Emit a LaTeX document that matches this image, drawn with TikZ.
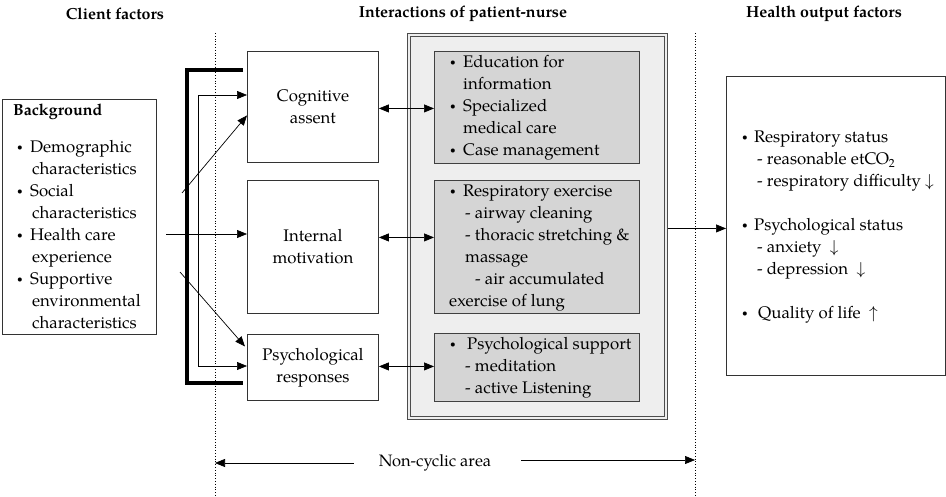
\documentclass[tikz,border=0pt]{standalone}
\usepackage{fontspec}
\setmainfont{TeX Gyre Pagella}
\usetikzlibrary{arrows.meta,calc}
\newcommand{\bulw}[1]{\makebox[#1][l]{\raisebox{0.25ex}{\fontsize{10}{10}\selectfont\textbullet}}}
\newcommand{\indw}[1]{\hspace*{#1}}
\begin{document}
\begin{tikzpicture}[x=1pt,y=-1pt,
  box/.style={draw=black!80, line width=0.9pt, fill=white, anchor=north west, inner sep=0pt},
  gbox/.style={draw=black!75, line width=0.9pt, fill=gray!33, anchor=north west, inner sep=0pt},
  panelbox/.style={draw=black!70, line width=0.9pt, fill=gray!13, anchor=north west, inner sep=0pt},
  txt/.style={inner sep=0pt, align=left, anchor=west, font=\fontsize{16.8}{22}\selectfont},
  ctxt/.style={inner sep=0pt, align=center, font=\fontsize{16.8}{22}\selectfont},
  ttl/.style={inner sep=0pt, font=\fontsize{16}{18}\selectfont\bfseries},
  arr/.style={-{Triangle[length=10pt,width=8pt]}, line width=0.7pt},
  darr/.style={{Triangle[length=10pt,width=8pt]}-{Triangle[length=10pt,width=8pt]}, line width=0.7pt},
  vsep/.style={dotted, line width=0.8pt},
  thickbr/.style={line width=4pt},
]
\useasboundingbox (0,0) rectangle (946,497);

% titles
\node[ttl] (t1) at (115,14) {Client factors};
\node[ttl] (t2) at (463,14) {Interactions of patient-nurse};
\node[ttl] (t3) at (824,14) {Health output factors};

% dotted separators
\coordinate (vLt) at (215,33);
\coordinate (vLb) at (215,497);
\coordinate (vRt) at (695,33);
\coordinate (vRb) at (695,497);
\draw[vsep] (vLt) -- (vLb);
\draw[vsep] (vRt) -- (vRb);

% background box
\node[box, minimum width=154pt, minimum height=235pt] (bg) at (2,99) {};
\node[ttl, anchor=west] (bgh) at (13,112) {Background};
\node[txt] (bgl) at (17,235) {\bulw{13pt}Demographic\\
\indw{15pt}characteristics\\
\bulw{13pt}Social\\
\indw{15pt}characteristics\\
\bulw{13pt}Health care\\
\indw{15pt}experience\\
\bulw{13pt}Supportive\\
\indw{15pt}environmental\\
\indw{15pt}characteristics};

% middle boxes
\node[box, minimum width=131pt, minimum height=111pt] (cog) at (247,51) {};
\node[ctxt] (cogt) at (cog.center) {Cognitive\\assent};
\node[box, minimum width=131pt, minimum height=133pt] (int) at (247,180) {};
\node[ctxt] (intt) at (int.center) {Internal\\motivation};
\node[box, minimum width=131pt, minimum height=66pt] (psy) at (247,334) {};
\node[ctxt] (psyt) at (psy.center) {Psychological\\responses};

% panel
\node[panelbox, minimum width=260pt, minimum height=386pt] (panel) at (407,33) {};
\draw[draw=black!70, line width=0.9pt] ([shift={(3,3)}]panel.north west) rectangle ([shift={(-3,-3)}]panel.south east);

\node[gbox, minimum width=205pt, minimum height=112pt] (g1) at (434,51) {};
\node[txt] (g1t) at (450,107.5) {\bulw{13pt}Education for\\
\indw{13pt}information\\
\bulw{13pt}Specialized\\
\indw{13pt}medical care\\
\bulw{13pt}Case management};
\node[gbox, minimum width=205pt, minimum height=133pt] (g2) at (434,180) {};
\node[txt] (g2t) at (449,248) {\indw{1pt}\bulw{13pt}Respiratory exercise\\
\indw{16pt}- airway cleaning\\
\indw{16pt}- thoracic stretching \&\\
\indw{16pt}massage\\
\indw{26pt}- air accumulated\\
exercise of lung};
\node[gbox, minimum width=205pt, minimum height=68pt] (g3) at (434,333) {};
\node[txt] (g3t) at (450,368) {\bulw{17pt}Psychological support\\
\indw{15pt}- meditation\\
\indw{15pt}- active Listening};

% output box
\node[box, minimum width=219pt, minimum height=299pt] (out) at (726,76) {};
\node[txt] (outt) at (742,227) {\bulw{12pt}Respiratory status\\
\indw{15pt}- reasonable etCO\textsubscript{2}\\
\indw{15pt}- respiratory difficulty $\downarrow$\\[22pt]
\bulw{12pt}Psychological status\\
\indw{15pt}- anxiety\ \ $\downarrow$\\
\indw{15pt}- depression\ \ $\downarrow$\\[22pt]
\bulw{16pt}Quality of life\ \ $\uparrow$};

% brackets
\coordinate (kt1) at (243,70);
\coordinate (kt2) at (187,70);
\coordinate (kb2) at (187,383);
\coordinate (kb1) at (243,383);
\draw[thickbr] (kt1) -- (kt2) -- (kb2) -- (kb1);

\coordinate (tbT) at (198,95);
\coordinate (tbB) at (198,366);
\draw[arr] (tbB) -- (tbT) -- (tbT -| cog.west);
\draw[arr] (tbB) -- (tbB -| psy.west);

% background arrows
\coordinate (d1s) at (182,193);
\coordinate (d1e) at ($(cog.west)+(0,8.5)$);
\draw[arr] (d1s) -- (d1e);
\coordinate (m1) at (166,234);
\draw[arr] (m1) -- (m1 -| int.west);
\coordinate (d2s) at (180,272);
\coordinate (d2e) at ($(psy.west)+(-2,-21)$);
\draw[arr] (d2s) -- (d2e);

% double arrows
\coordinate (a1) at ($(cog.east)+(0,1.5)$);
\draw[darr] (a1) -- (a1 -| g1.west);
\coordinate (a2) at ($(int.east)+(0,-9.5)$);
\draw[darr] (a2) -- (a2 -| g2.west);
\coordinate (a3) at ($(psy.east)+(0,-1)$);
\draw[darr] (a3) -- (a3 -| g3.west);

% output arrow
\coordinate (o1) at ($(panel.east)+(0,2)$);
\draw[arr] (o1) -- (o1 -| out.west);

% non-cyclic area
\node[inner sep=0pt, font=\fontsize{16.5}{20}\selectfont] (nc) at (435,463) {Non-cyclic area};
\draw[arr] ([xshift=-25pt]nc.west) -- (nc.west -| vLt);
\coordinate (nr) at ($(nc.east)+(30,-3)$);
\draw[arr] (nr) -- (nr -| vRt);
\end{tikzpicture}
\end{document}
